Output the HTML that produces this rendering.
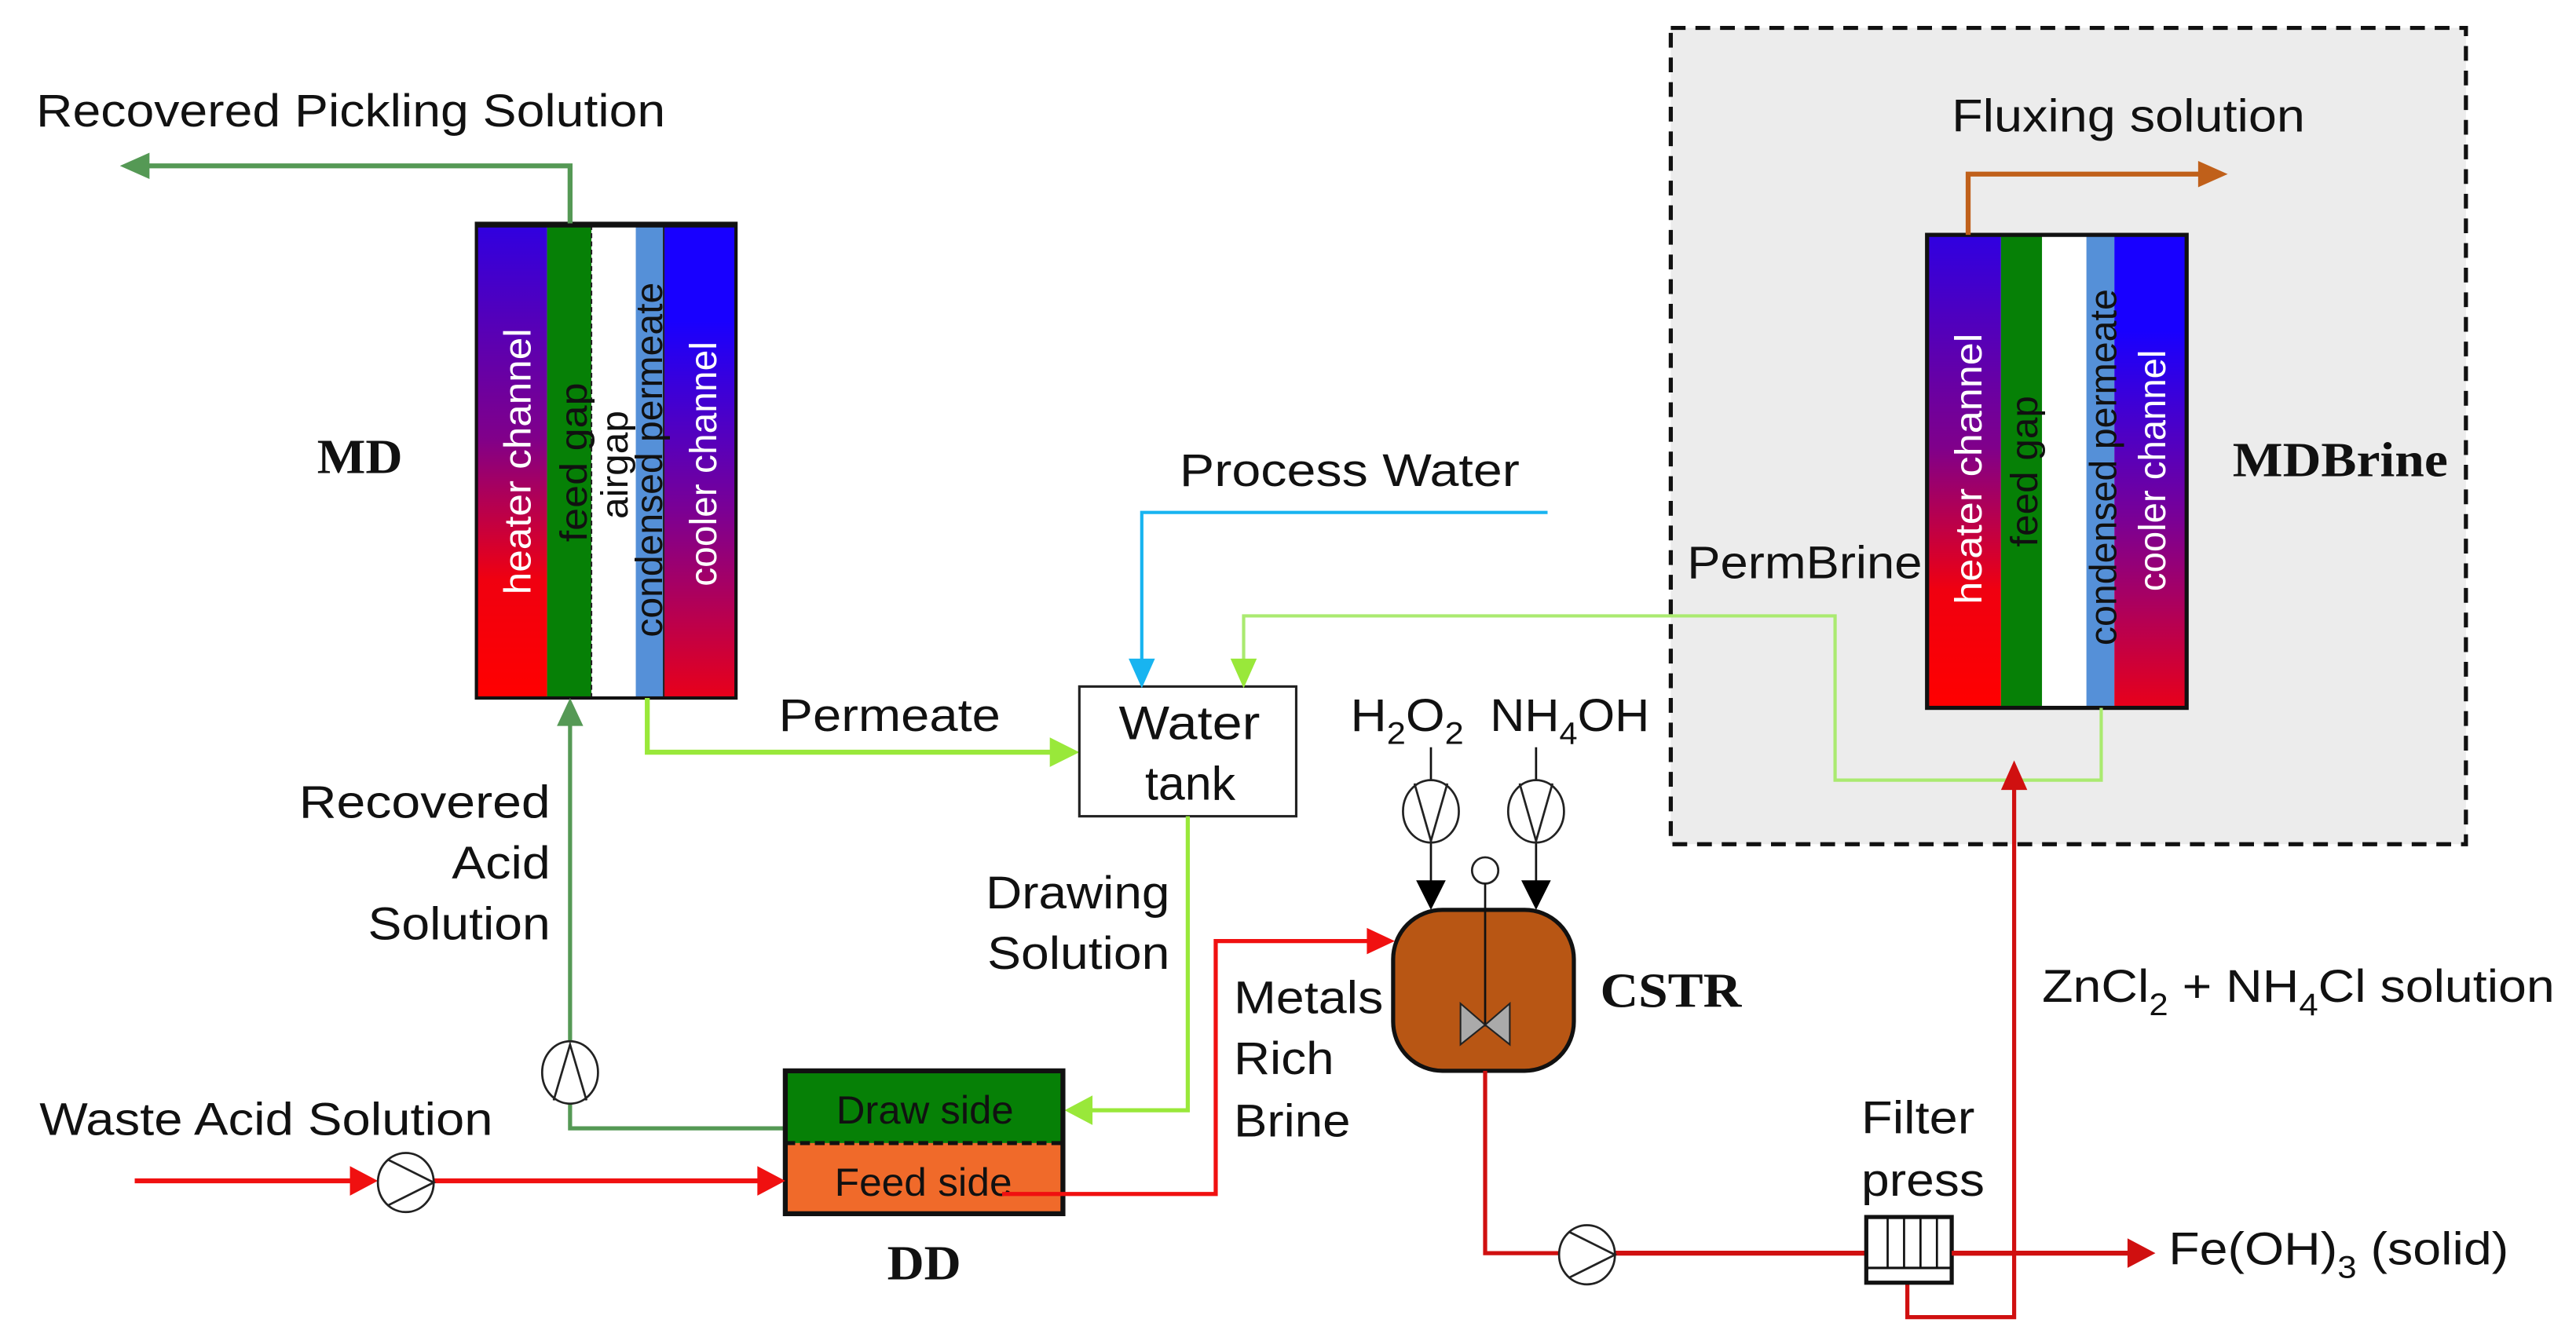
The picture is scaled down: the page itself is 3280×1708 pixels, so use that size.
<!DOCTYPE html>
<html><head><meta charset="utf-8"><style>
html,body{margin:0;padding:0;background:#fff;}
svg{display:block;}
text{font-family:"Liberation Sans",Arial,sans-serif;fill:#111;}
.b{font-family:"Liberation Serif",serif;font-weight:bold;}
</style></head><body>
<svg width="3280" height="1708" viewBox="0 0 1568 816.5" preserveAspectRatio="none" xmlns="http://www.w3.org/2000/svg">
<defs>
<linearGradient id="gh" x1="0" y1="0" x2="0" y2="1"><stop offset="0" stop-color="#3000e0"/><stop offset="0.45" stop-color="#80008a"/><stop offset="0.75" stop-color="#f00010"/><stop offset="1" stop-color="#ff0000"/></linearGradient>
<linearGradient id="gc" x1="0" y1="0" x2="0" y2="1"><stop offset="0" stop-color="#1800ff"/><stop offset="0.2" stop-color="#1800ff"/><stop offset="0.6" stop-color="#7a0095"/><stop offset="1" stop-color="#e8001a"/></linearGradient>
</defs>
<rect x="1017" y="17" width="484" height="497" fill="#ececec" stroke="#111" stroke-width="2.5" stroke-dasharray="9,6"/>

<!-- MD module -->
<rect x="290" y="137" width="43" height="288" fill="url(#gh)"/>
<rect x="333" y="137" width="27" height="288" fill="#068006"/>
<rect x="360" y="137" width="27" height="288" fill="#fff"/>
<rect x="387" y="137" width="17" height="288" fill="#5590d8"/>
<rect x="404" y="137" width="44" height="288" fill="url(#gc)"/>
<line x1="360" y1="137" x2="360" y2="425" stroke="#222" stroke-width="1" stroke-dasharray="3,2"/>
<line x1="404" y1="137" x2="404" y2="425" stroke="#222" stroke-width="1"/>
<rect x="290" y="136" width="158" height="289" fill="none" stroke="#111" stroke-width="2"/>
<line x1="290" y1="137" x2="448" y2="137" stroke="#111" stroke-width="3"/>
<text transform="translate(323,362) rotate(-90)" font-size="23" textLength="162" lengthAdjust="spacingAndGlyphs" style="fill:#fff">heater  channel</text>
<text transform="translate(357,330) rotate(-90)" font-size="23" textLength="97" lengthAdjust="spacingAndGlyphs">feed  gap</text>
<text transform="translate(382,316) rotate(-90)" font-size="23" textLength="66" lengthAdjust="spacingAndGlyphs">airgap</text>
<text transform="translate(403,388) rotate(-90)" font-size="23" textLength="216" lengthAdjust="spacingAndGlyphs">condensed permeate</text>
<text transform="translate(436,357) rotate(-90)" font-size="23" textLength="149" lengthAdjust="spacingAndGlyphs" style="fill:#fff">cooler channel</text>
<text x="193" y="288" class="b" font-size="30" textLength="52" lengthAdjust="spacingAndGlyphs">MD</text>

<!-- MDBrine module -->
<rect x="1173" y="144" width="45" height="287" fill="url(#gh)"/>
<rect x="1218" y="144" width="25" height="287" fill="#068006"/>
<rect x="1243" y="144" width="27" height="287" fill="#fff"/>
<rect x="1270" y="144" width="17" height="287" fill="#5590d8"/>
<rect x="1287" y="144" width="44" height="287" fill="url(#gc)"/>
<rect x="1173" y="143" width="158" height="288" fill="none" stroke="#111" stroke-width="2.5"/>
<text transform="translate(1206,368) rotate(-90)" font-size="23" textLength="165" lengthAdjust="spacingAndGlyphs" style="fill:#fff">heater  channel</text>
<text transform="translate(1240,333) rotate(-90)" font-size="23" textLength="92" lengthAdjust="spacingAndGlyphs">feed  gap</text>
<text transform="translate(1288,393) rotate(-90)" font-size="23" textLength="217" lengthAdjust="spacingAndGlyphs">condensed permeate</text>
<text transform="translate(1318,360) rotate(-90)" font-size="23" textLength="147" lengthAdjust="spacingAndGlyphs" style="fill:#fff">cooler channel</text>
<text x="1359" y="290" class="b" font-size="30" textLength="131" lengthAdjust="spacingAndGlyphs">MDBrine</text>
<text x="1027" y="352" font-size="28" textLength="143" lengthAdjust="spacingAndGlyphs">PermBrine</text>

<text x="1188" y="80" font-size="28" textLength="215" lengthAdjust="spacingAndGlyphs">Fluxing  solution</text>
<polyline points="1198,143 1198,106 1340,106" fill="none" stroke="#c0601a" stroke-width="3"/>
<polygon points="1356,106 1338,98 1338,114" fill="#c0601a"/>

<text x="22" y="77" font-size="28" textLength="383" lengthAdjust="spacingAndGlyphs">Recovered Pickling Solution</text>
<polyline points="347,136 347,101 90,101" fill="none" stroke="#559955" stroke-width="3"/>
<polygon points="73,101 91,93 91,109" fill="#559955"/>

<polyline points="478,687 347,687 347,440" fill="none" stroke="#559955" stroke-width="2.5"/>
<polygon points="347,425 339,442 355,442" fill="#559955"/>
<ellipse cx="347" cy="653" rx="17" ry="19" fill="#fff" stroke="#222" stroke-width="1.3"/>
<polyline points="337,670 347,636 357,670" fill="none" stroke="#222" stroke-width="1.3"/>
<text x="335" y="498" font-size="28" text-anchor="end" textLength="153" lengthAdjust="spacingAndGlyphs">Recovered</text>
<text x="335" y="535" font-size="28" text-anchor="end" textLength="60" lengthAdjust="spacingAndGlyphs">Acid</text>
<text x="335" y="572" font-size="28" text-anchor="end" textLength="111" lengthAdjust="spacingAndGlyphs">Solution</text>

<polyline points="394,425 394,458 642,458" fill="none" stroke="#99e83a" stroke-width="3"/>
<polygon points="657,458 639,449 639,467" fill="#99e83a"/>
<text x="474" y="445" font-size="28" textLength="135" lengthAdjust="spacingAndGlyphs">Permeate</text>

<rect x="657" y="418" width="132" height="79" fill="#fff" stroke="#222" stroke-width="1.5"/>
<text x="681" y="450" font-size="29" textLength="86" lengthAdjust="spacingAndGlyphs">Water</text>
<text x="697" y="487" font-size="29" textLength="55" lengthAdjust="spacingAndGlyphs">tank</text>

<text x="718" y="296" font-size="28" textLength="207" lengthAdjust="spacingAndGlyphs">Process Water</text>
<polyline points="942,312 695,312 695,404" fill="none" stroke="#18b4f0" stroke-width="2"/>
<polygon points="695,419 687,401 703,401" fill="#18b4f0"/>

<polyline points="1279,431 1279,475 1117,475 1117,375 757,375 757,404" fill="none" stroke="#aaea70" stroke-width="2"/>
<polygon points="757,419 749,401 765,401" fill="#99e83a"/>

<polyline points="723,497 723,676 664,676" fill="none" stroke="#99e83a" stroke-width="2.5"/>
<polygon points="648,676 665,667 665,685" fill="#99e83a"/>
<text x="712" y="553" font-size="28" text-anchor="end" textLength="112" lengthAdjust="spacingAndGlyphs">Drawing</text>
<text x="712" y="590" font-size="28" text-anchor="end" textLength="111" lengthAdjust="spacingAndGlyphs">Solution</text>

<rect x="478" y="652" width="169" height="44" fill="#068006"/>
<rect x="478" y="696" width="169" height="43" fill="#f06a2a"/>
<rect x="478" y="652" width="169" height="87" fill="none" stroke="#111" stroke-width="3"/>
<line x1="478" y1="696" x2="647" y2="696" stroke="#111" stroke-width="2.5" stroke-dasharray="6,3"/>
<text x="509" y="684" font-size="24" textLength="108" lengthAdjust="spacingAndGlyphs">Draw side</text>
<text x="508" y="728" font-size="24" textLength="108" lengthAdjust="spacingAndGlyphs">Feed side</text>
<text x="540" y="779" class="b" font-size="30" textLength="45" lengthAdjust="spacingAndGlyphs">DD</text>

<text x="24" y="691" font-size="28" textLength="276" lengthAdjust="spacingAndGlyphs">Waste Acid Solution</text>
<line x1="82" y1="719" x2="215" y2="719" stroke="#f01010" stroke-width="3"/>
<polygon points="230,719 213,710 213,728" fill="#f01010"/>
<line x1="264" y1="719" x2="462" y2="719" stroke="#f01010" stroke-width="3"/>
<polygon points="478,719 461,710 461,728" fill="#f01010"/>
<ellipse cx="247" cy="720" rx="17" ry="18" fill="#fff" stroke="#222" stroke-width="1.3"/>
<polyline points="236,706 264,720 236,734" fill="none" stroke="#222" stroke-width="1.3"/>

<polyline points="610,727 740,727 740,573 833,573" fill="none" stroke="#f01010" stroke-width="2.5"/>
<polygon points="849,573 832,565 832,581" fill="#f01010"/>
<text x="751" y="617" font-size="28" textLength="91" lengthAdjust="spacingAndGlyphs">Metals</text>
<text x="751" y="654" font-size="28" textLength="61" lengthAdjust="spacingAndGlyphs">Rich</text>
<text x="751" y="692" font-size="28" textLength="71" lengthAdjust="spacingAndGlyphs">Brine</text>

<text x="822" y="445" font-size="28" textLength="69" lengthAdjust="spacingAndGlyphs">H<tspan font-size="19" dy="8">2</tspan><tspan dy="-8">O</tspan><tspan font-size="19" dy="8">2</tspan></text>
<text x="907" y="445" font-size="28" textLength="97" lengthAdjust="spacingAndGlyphs">NH<tspan font-size="19" dy="8">4</tspan><tspan dy="-8">OH</tspan></text>
<line x1="871" y1="455" x2="871" y2="540" stroke="#111" stroke-width="1.3"/>
<line x1="935" y1="455" x2="935" y2="540" stroke="#111" stroke-width="1.3"/>
<ellipse cx="871" cy="494" rx="17" ry="19" fill="#fff" stroke="#222" stroke-width="1.3"/>
<polyline points="861,477 871,512 881,477" fill="none" stroke="#222" stroke-width="1.3"/>
<ellipse cx="935" cy="494" rx="17" ry="19" fill="#fff" stroke="#222" stroke-width="1.3"/>
<polyline points="925,477 935,512 945,477" fill="none" stroke="#222" stroke-width="1.3"/>
<polygon points="871,554 862,536 880,536" fill="#000"/>
<polygon points="935,554 926,536 944,536" fill="#000"/>

<rect x="848" y="554" width="110" height="98" rx="30" ry="30" fill="#b85614" stroke="#111" stroke-width="2.5"/>
<circle cx="904" cy="530" r="8" fill="#fff" stroke="#222" stroke-width="1.3"/>
<line x1="904" y1="538" x2="904" y2="625" stroke="#111" stroke-width="1.3"/>
<polygon points="889,611 904,624 889,636" fill="#aaa" stroke="#222" stroke-width="1"/>
<polygon points="919,611 904,624 919,636" fill="#aaa" stroke="#222" stroke-width="1"/>
<text x="974" y="613" class="b" font-size="30" textLength="86" lengthAdjust="spacingAndGlyphs">CSTR</text>

<polyline points="904,652 904,763 950,763" fill="none" stroke="#d01010" stroke-width="2.5"/>
<line x1="983" y1="763" x2="1135" y2="763" stroke="#d01010" stroke-width="3"/>
<ellipse cx="966" cy="764" rx="17" ry="18" fill="#fff" stroke="#222" stroke-width="1.3"/>
<polyline points="955,750 983,764 955,778" fill="none" stroke="#222" stroke-width="1.3"/>
<line x1="1188" y1="763" x2="1296" y2="763" stroke="#d01010" stroke-width="3"/>
<polygon points="1312,763 1295,754 1295,772" fill="#d01010"/>
<text x="1320" y="770" font-size="28" textLength="207" lengthAdjust="spacingAndGlyphs">Fe(OH)<tspan font-size="19" dy="8">3</tspan><tspan dy="-8"> (solid)</tspan></text>

<text x="1133" y="690" font-size="28" textLength="69" lengthAdjust="spacingAndGlyphs">Filter</text>
<text x="1133" y="728" font-size="28" textLength="75" lengthAdjust="spacingAndGlyphs">press</text>
<polyline points="1161,781 1161,802 1226,802 1226,478" fill="none" stroke="#d01010" stroke-width="2.5"/>
<polygon points="1226,463 1218,481 1234,481" fill="#d01010"/>
<rect x="1136" y="741" width="52" height="40" fill="#fff" stroke="#111" stroke-width="2.5"/>
<line x1="1136" y1="772" x2="1188" y2="772" stroke="#111" stroke-width="1.5"/>
<line x1="1149" y1="741" x2="1149" y2="772" stroke="#111" stroke-width="1.3"/>
<line x1="1159" y1="741" x2="1159" y2="772" stroke="#111" stroke-width="1.3"/>
<line x1="1169" y1="741" x2="1169" y2="772" stroke="#111" stroke-width="1.3"/>
<line x1="1179" y1="741" x2="1179" y2="772" stroke="#111" stroke-width="1.3"/>
<line x1="1188" y1="763" x2="1226" y2="763" stroke="#d01010" stroke-width="3"/>

<text x="1243" y="610" font-size="28" textLength="312" lengthAdjust="spacingAndGlyphs">ZnCl<tspan font-size="19" dy="8">2</tspan><tspan dy="-8"> + NH</tspan><tspan font-size="19" dy="8">4</tspan><tspan dy="-8">Cl  solution</tspan></text>
</svg>
</body></html>
